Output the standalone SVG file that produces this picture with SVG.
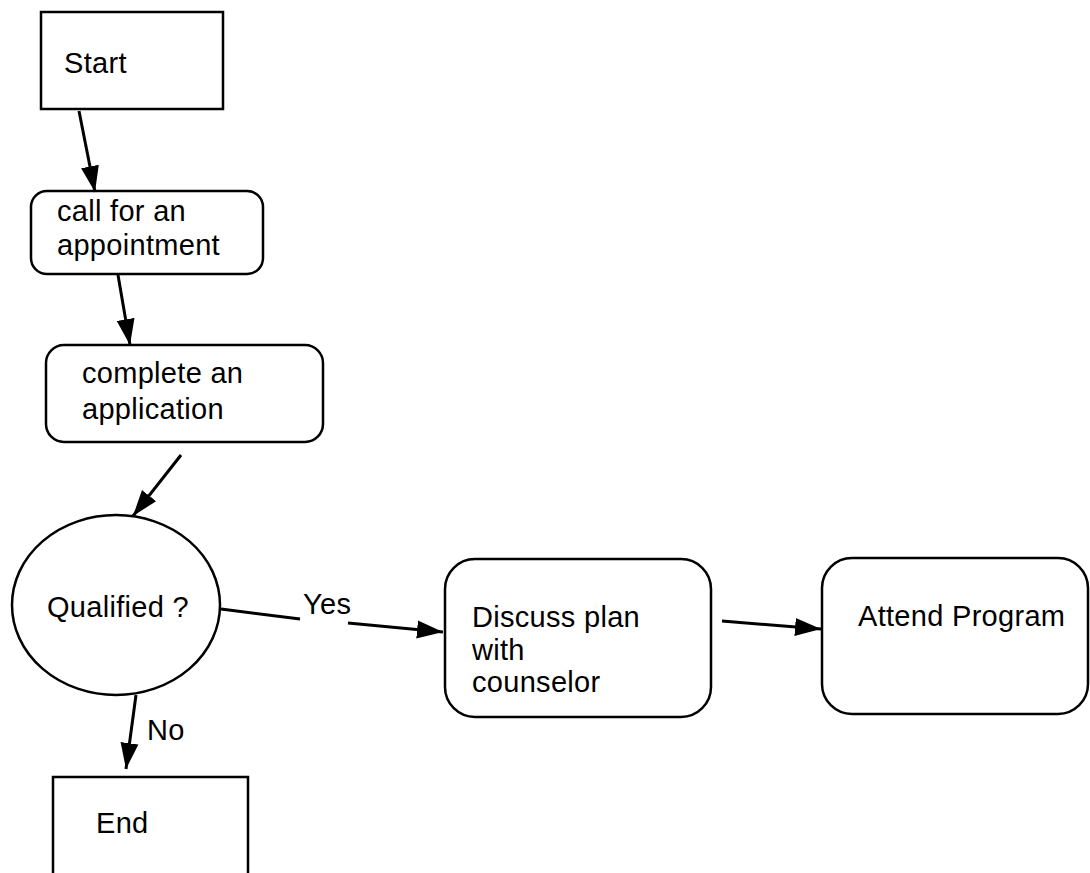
<svg xmlns="http://www.w3.org/2000/svg" width="1090" height="873" viewBox="0 0 1090 873">
<style>
.box{fill:#fff;stroke:#000;stroke-width:2.5}
.t{font-family:"Liberation Sans",Arial,sans-serif;font-size:29px;letter-spacing:0.3px;fill:#000}
.c{fill:none;stroke:#000;stroke-width:3}
</style>
<defs>
<marker id="ah" markerUnits="userSpaceOnUse" markerWidth="28" markerHeight="22" refX="26" refY="11" orient="auto">
<path d="M0,2 L26,11 L0,20 Z" fill="#000"/>
</marker>
</defs>
<rect width="1090" height="873" fill="#fff"/>
<g id="start"><rect class="box" x="41" y="12" width="182" height="97"/><text class="t" x="64" y="73">Start</text></g>
<g id="call"><rect class="box" x="31" y="191" width="232" height="83" rx="16"/><text class="t" x="57" y="221">call for an</text><text class="t" x="57" y="255">appointment</text></g>
<g id="complete"><rect class="box" x="46" y="345" width="277" height="97" rx="18"/><text class="t" x="82" y="383">complete an</text><text class="t" x="82" y="419">application</text></g>
<g id="qualified"><ellipse class="box" cx="116" cy="605" rx="104" ry="90"/><text class="t" x="47" y="617">Qualified ?</text></g>
<g id="end"><path class="box" d="M53,880 L53,777 L248,777 L248,880"/><text class="t" x="96" y="833">End</text></g>
<g id="discuss"><rect class="box" x="445" y="559" width="266" height="158" rx="30"/><text class="t" x="472" y="627">Discuss plan</text><text class="t" x="472" y="660">with</text><text class="t" x="472" y="692">counselor</text></g>
<g id="attend"><rect class="box" x="822" y="558" width="266" height="156" rx="30"/><text class="t" x="858" y="626">Attend Program</text></g>
<g id="connectors">
<path class="c" d="M79,111 L95,192" marker-end="url(#ah)"/>
<path class="c" d="M118,275 L130,345" marker-end="url(#ah)"/>
<path class="c" d="M181,455 L133,516" marker-end="url(#ah)"/>
<path class="c" d="M221,609 L300,619"/>
<path class="c" d="M348,623 L443,632" marker-end="url(#ah)"/>
<path class="c" d="M722,621 L821,629" marker-end="url(#ah)"/>
<path class="c" d="M136,695 L126,769" marker-end="url(#ah)"/>
<text class="t" x="303" y="614">Yes</text>
<text class="t" x="147" y="740">No</text>
</g>
</svg>
